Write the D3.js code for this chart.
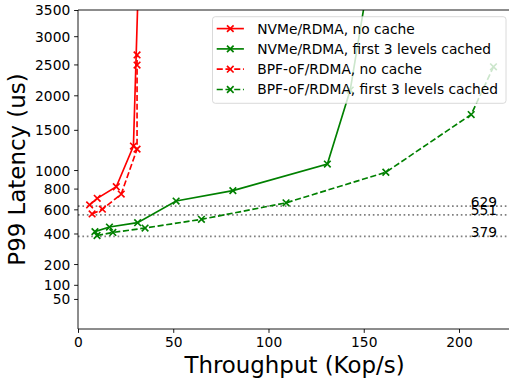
<!DOCTYPE html>
<html>
<head>
<meta charset="utf-8">
<script src="https://cdn.jsdelivr.net/npm/d3@7"></script>
<style>
  body { margin: 0; background: #fff; }
  svg { display: block; }
  text { font-family: "DejaVu Sans", sans-serif; }
</style>
</head>
<body>
<div id="chart"></div>
<script>
// values
const xTicks = [0, 50, 100, 150, 200];
const yTicks = [50, 100, 200, 400, 600, 800, 1000, 1500, 2000, 2500, 3000, 3500];

const nvmeNoCacheX = [6.1, 10.1, 20.1, 29.1, 32];
const nvmeNoCacheY = [640, 703, 819, 1288, 4500];
const nvmeCachedX = [8.9, 16.5, 31.3, 51.5, 81.3, 130.9, 142.9, 154];
const nvmeCachedY = [414, 450, 485, 677, 779, 1069, 2082, 4500];
const bpfNoCacheX = [7.4, 12.8, 22.7, 31.0, 31.0, 31.0];
const bpfNoCacheY = [559, 601, 745, 1249, 2490, 2664];
const bpfCachedX = [10.0, 18.3, 35.2, 64.8, 109.2, 161.6, 206.4, 218.1];
const bpfCachedY = [385, 408, 442, 513, 660, 975, 1714, 2460];

const seriesNames = [
  'NVMe/RDMA, no cache',
  'NVMe/RDMA, first 3 levels cached',
  'BPF-oF/RDMA, no cache',
  'BPF-oF/RDMA, first 3 levels cached'
];
const seriesColors = ['red', 'green', 'red', 'green'];
const seriesDashed = [false, false, true, true];

const refLines = [629, 551, 379];

const series = [
  [nvmeNoCacheX, nvmeNoCacheY],
  [nvmeCachedX, nvmeCachedY],
  [bpfNoCacheX, bpfNoCacheY],
  [bpfCachedX, bpfCachedY]
].map(([xs, ys], i) => ({
  name: seriesNames[i],
  color: seriesColors[i],
  dashed: seriesDashed[i],
  points: xs.map((x, j) => ({x: x, y: ys[j]}))
}));

const W = 509, H = 383;
const plotLeft = 78, plotRight = 511, plotTop = 10, plotBottom = 329;
const lw = 1.66;
const fs = 13.8;

const svg = d3.select('#chart').append('svg')
  .attr('width', W)
  .attr('height', H);

const x = d3.scaleLinear().domain([0, 227.3]).range([plotLeft, plotRight]);
// the y axis is neither linear nor log: a power scale fits the tick spacing
const y = d3.scalePow().exponent(0.556).domain([0, 3500]).range([plotBottom, plotTop]);

svg.append('defs').append('clipPath').attr('id', 'plotclip')
  .append('rect')
  .attr('x', plotLeft).attr('y', plotTop)
  .attr('width', plotRight - plotLeft).attr('height', plotBottom - plotTop);

// dotted reference lines
const refs = svg.append('g');
refs.selectAll('line').data(refLines).enter().append('line')
  .attr('x1', plotLeft).attr('x2', plotRight)
  .attr('y1', d => y(d)).attr('y2', d => y(d))
  .attr('stroke', 'gray')
  .attr('stroke-width', lw)
  .attr('stroke-dasharray', '1.66,2.74');
refs.selectAll('text').data(refLines).enter().append('text')
  .attr('x', x(220))
  .attr('y', d => y(d) + 0.5)
  .attr('text-anchor', 'end')
  .attr('font-size', fs)
  .attr('fill', '#000')
  .text(d => d);

// series lines and markers
const line = d3.line().x(d => x(d.x)).y(d => y(d.y));
const plot = svg.append('g').attr('clip-path', 'url(#plotclip)');

function drawMarker(g, cx, cy, color) {
  const r = 3.3;
  g.append('path')
    .attr('d', `M${cx - r},${cy - r}L${cx + r},${cy + r}M${cx - r},${cy + r}L${cx + r},${cy - r}`)
    .attr('stroke', color)
    .attr('stroke-width', lw)
    .attr('fill', 'none');
}

for (let s of series) {
  plot.append('path')
    .datum(s.points)
    .attr('d', line)
    .attr('fill', 'none')
    .attr('stroke', s.color)
    .attr('stroke-width', lw)
    .attr('stroke-dasharray', s.dashed ? '6.1,2.65' : null);
  for (let p of s.points) {
    drawMarker(plot, x(p.x), y(p.y), s.color);
  }
}

// axes
const xAxis = svg.append('g')
  .attr('transform', `translate(0,${plotBottom})`)
  .call(d3.axisBottom(x).tickValues(xTicks).tickFormat(d3.format('d'))
    .tickSize(3.9).tickPadding(4));
const yAxis = svg.append('g')
  .attr('transform', `translate(${plotLeft},0)`)
  .call(d3.axisLeft(y).tickValues(yTicks).tickFormat(d3.format('d'))
    .tickSize(3.9).tickPadding(3.9));
for (let ax of [xAxis, yAxis]) {
  ax.select('.domain').remove();
  ax.selectAll('.tick line').attr('stroke', '#000').attr('stroke-width', 0.9);
  ax.selectAll('.tick text')
    .attr('font-size', fs)
    .attr('font-family', '"DejaVu Sans", sans-serif')
    .attr('fill', '#000');
}
yAxis.selectAll('.tick text').attr('dy', '0.36em');

// spines
svg.append('line').attr('x1', plotLeft).attr('x2', plotLeft).attr('y1', plotTop).attr('y2', plotBottom)
  .attr('stroke', '#000').attr('stroke-width', 0.9);
svg.append('line').attr('x1', plotLeft).attr('x2', plotRight).attr('y1', plotBottom).attr('y2', plotBottom)
  .attr('stroke', '#000').attr('stroke-width', 0.9);
svg.append('line').attr('x1', plotLeft).attr('x2', plotRight).attr('y1', plotTop).attr('y2', plotTop)
  .attr('stroke', '#000').attr('stroke-width', 0.9);

// axis titles
svg.append('text')
  .attr('x', (plotLeft + plotRight) / 2)
  .attr('y', 372.5)
  .attr('text-anchor', 'middle')
  .attr('font-size', 22.9)
  .text('Throughput (Kop/s)');
svg.append('text')
  .attr('transform', `translate(25,${(plotTop + plotBottom) / 2}) rotate(-90)`)
  .attr('text-anchor', 'middle')
  .attr('font-size', 22.9)
  .text('P99 Latency (us)');

// legend
const leg = svg.append('g');
leg.append('rect')
  .attr('x', 212.5).attr('y', 16.7)
  .attr('width', 293.5).attr('height', 86.6)
  .attr('rx', 2.8)
  .attr('fill', 'white')
  .attr('fill-opacity', 0.8)
  .attr('stroke', '#ccc')
  .attr('stroke-opacity', 0.8)
  .attr('stroke-width', 0.9);
series.forEach((s, i) => {
  const ly = 28.6 + i * 20.3;
  leg.append('line')
    .attr('x1', 216.7).attr('x2', 243.9)
    .attr('y1', ly).attr('y2', ly)
    .attr('stroke', s.color)
    .attr('stroke-width', lw)
    .attr('stroke-dasharray', s.dashed ? '6.1,2.65' : null);
  drawMarker(leg, 230.3, ly, s.color);
  leg.append('text')
    .attr('x', 257.3)
    .attr('y', ly)
    .attr('dy', '0.36em')
    .attr('font-size', fs)
    .text(s.name);
});
</script>
</body>
</html>
